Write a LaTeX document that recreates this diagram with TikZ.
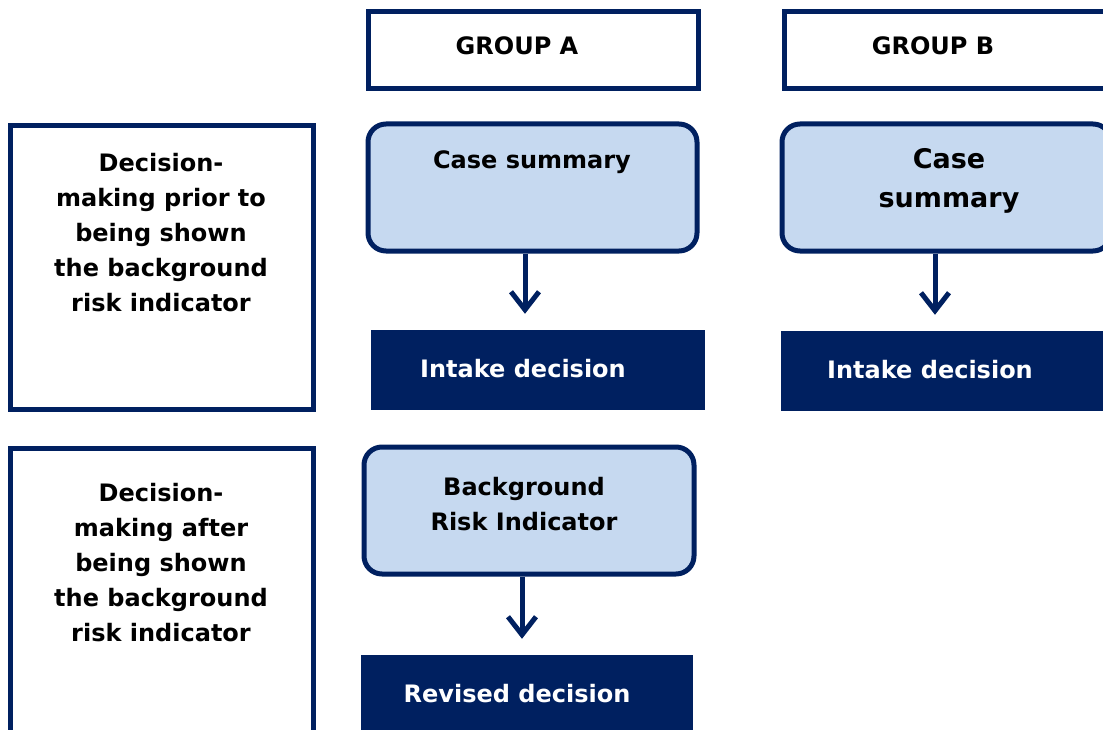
\documentclass[tikz,border=0pt]{standalone}
\usepackage{fontspec}
\setmainfont{DejaVu Sans}
\usetikzlibrary{arrows.meta}
\definecolor{navy}{HTML}{002060}
\definecolor{paleblue}{HTML}{C6D9F0}
\begin{document}
\begin{tikzpicture}[x=1pt,y=-1pt,
  frame/.style={draw=navy,line width=5pt,fill=white,rectangle,inner sep=0pt},
  softbox/.style={draw=navy,line width=5pt,fill=paleblue,rectangle,rounded corners=18pt,inner sep=0pt},
  darkbox/.style={fill=navy,rectangle,inner sep=0pt},
  label/.style={font=\bfseries\fontsize{24}{35}\selectfont,align=center,inner sep=0pt,text=black},
  whitelabel/.style={label,text=white},
  flow/.style={draw=navy,line width=5pt,-{Straight Barb[length=18pt,width=28pt,line width=5pt]},shorten >=16pt}
]
\useasboundingbox (0,0) rectangle (1103,730);
\begin{scope}
\clip (0,0) rectangle (1103,730);

% column headers
\node[frame,minimum width=330,minimum height=77] (hdrA) at (533,50.5) {};
\node[frame,minimum width=330,minimum height=77] (hdrB) at (949,50.5) {};
\node[label] (hdrAtxt) at (517,46) {GROUP A};
\node[label] (hdrBtxt) at (933,46) {GROUP B};

% row descriptions
\node[frame,minimum width=303,minimum height=283] (rowone) at (161.5,267.5) {};
\node[label] (rowonetxt) at (161,233) {Decision-\\making prior to\\being shown\\the background\\risk indicator};
\node[frame,minimum width=303,minimum height=300] (rowtwo) at (161.5,598) {};
\node[label] (rowtwotxt) at (161,563) {Decision-\\making after\\being shown\\the background\\risk indicator};

% group A, first stage
\node[softbox,minimum width=329,minimum height=127] (caseA) at (532.5,187.5) {};
\node[label] (caseAtxt) at (532,162) {Case summary};
\node[darkbox,minimum width=334,minimum height=80] (intakeA) at (538,370) {};
\node[whitelabel] (intakeAtxt) at (523,369) {Intake decision};
\draw[flow] ([xshift=-7.5pt]caseA.south) -- ([xshift=-7.5pt]caseA.south |- intakeA.north);

% group B, first stage
\node[softbox,minimum width=329,minimum height=127] (caseB) at (946.5,187.5) {};
\node[label,font=\bfseries\fontsize{27}{39}\selectfont] (caseBtxt) at (949,180.5) {Case\\summary};
\node[darkbox,minimum width=330,minimum height=80] (intakeB) at (946,371) {};
\node[whitelabel] (intakeBtxt) at (930,370) {Intake decision};
\draw[flow] ([xshift=-11.5pt]caseB.south) -- ([xshift=-11.5pt]caseB.south |- intakeB.north);

% group A, second stage
\node[softbox,minimum width=330,minimum height=127] (bri) at (529,510.5) {};
\node[label] (britxt) at (524,504) {Background\\Risk Indicator};
\node[darkbox,minimum width=332,minimum height=90] (revised) at (527,700) {};
\node[whitelabel] (revisedtxt) at (517,694) {Revised decision};
\draw[flow] ([xshift=-7pt]bri.south) -- ([xshift=-7pt]bri.south |- revised.north);
\end{scope}
\end{tikzpicture}
\end{document}
